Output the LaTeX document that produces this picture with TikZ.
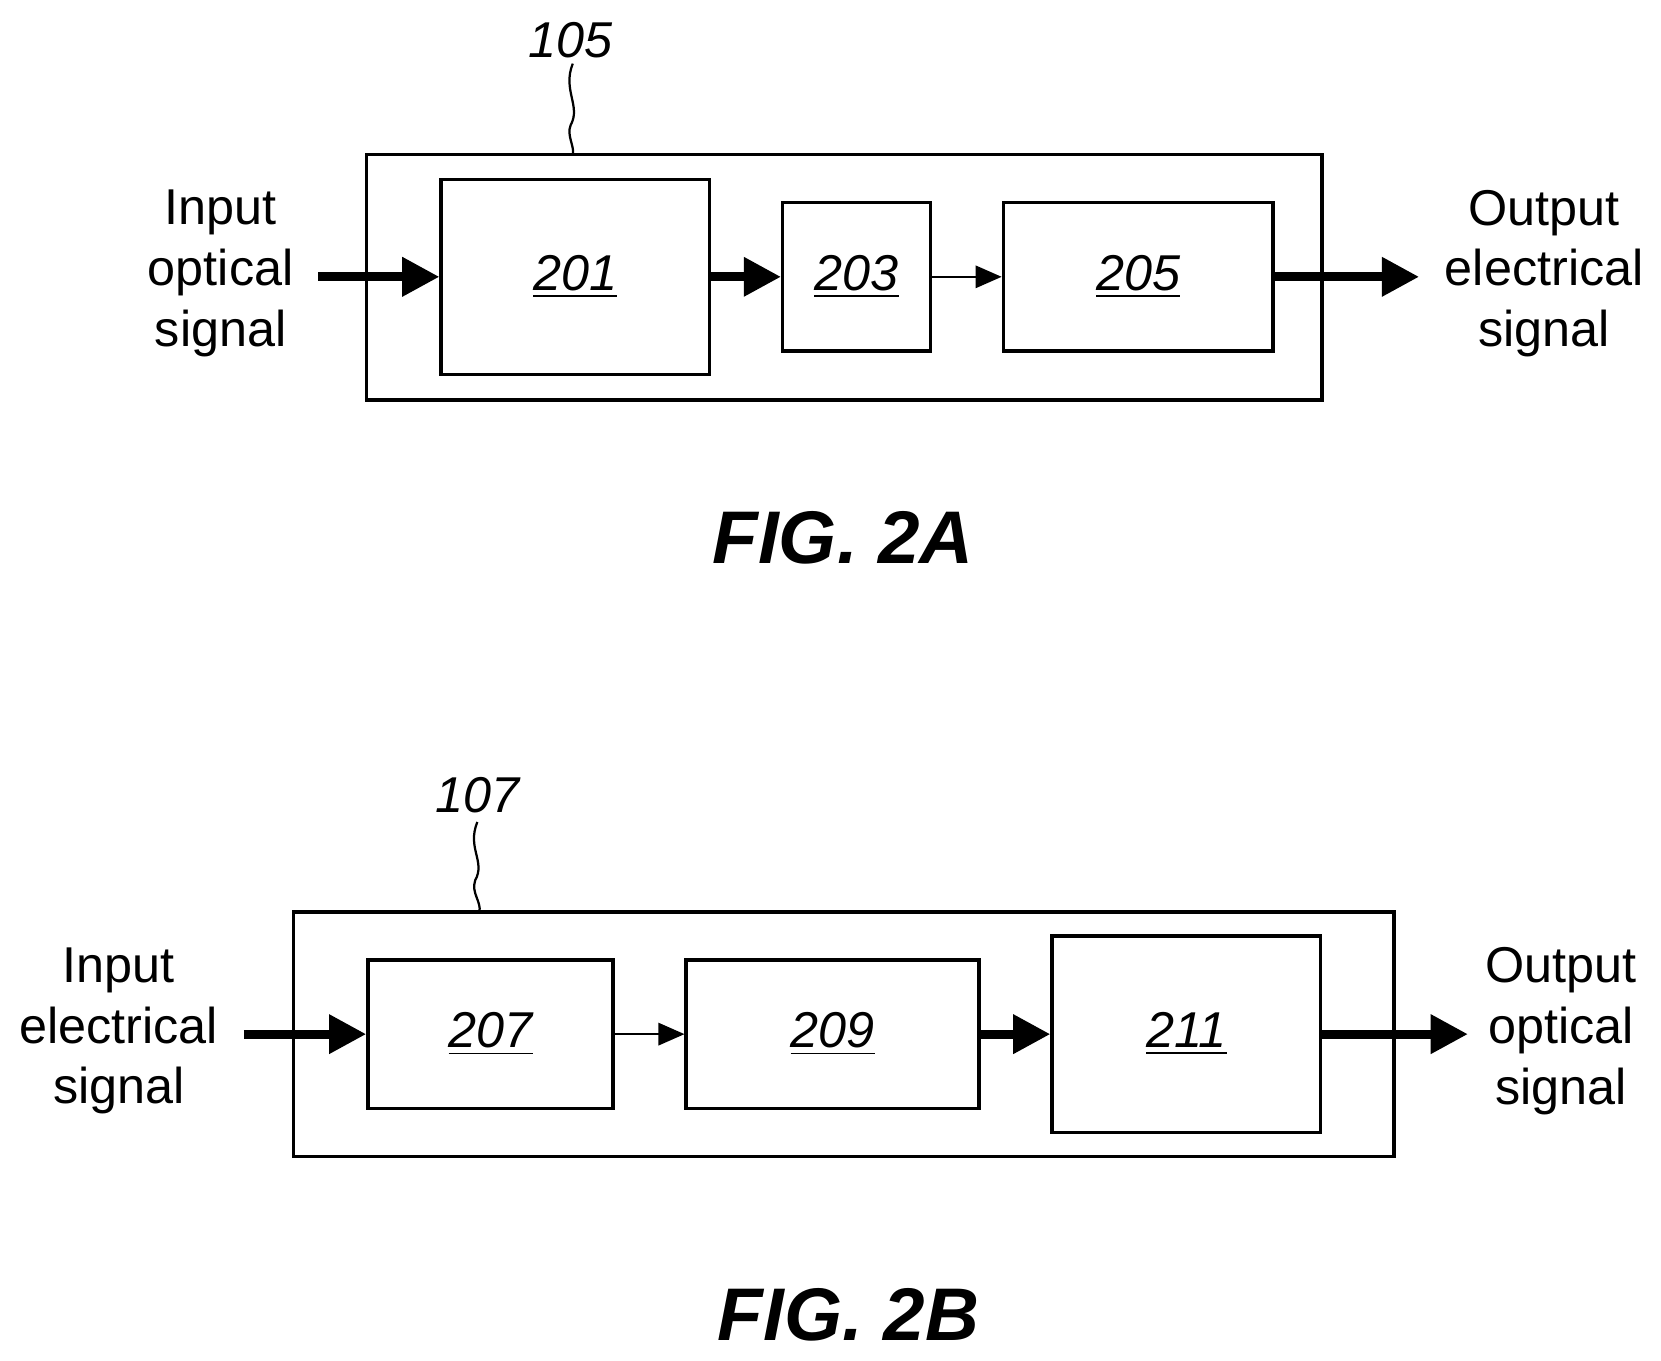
\documentclass[tikz,border=0pt]{standalone}
\usepackage{fontspec}
\setmainfont{Liberation Sans}
\usetikzlibrary{arrows.meta}
\begin{document}
\begin{tikzpicture}[x=0.01cm,y=-0.01cm,
 box/.style={draw,line width=0.9pt,inner sep=0,font=\fontsize{13.5}{16}\selectfont\itshape},
 num/.style={font=\fontsize{13.5}{16}\selectfont\itshape},
 lab/.style={font=\fontsize{13.5}{16.3}\selectfont,align=center},
 thick arr/.style={line width=2.4pt,-{Triangle[length=10pt,width=10pt]}},
 thin arr/.style={line width=0.6pt,-{Triangle[length=7pt,width=6pt]}},
 fig/.style={font=\fontsize{20}{22}\selectfont\bfseries\itshape}]
\useasboundingbox (0,0) rectangle (1566,1283);
% FIG 2A
\node[box,minimum width=9cm,minimum height=2.31cm] (o105) at (796,261.5) {};
\node[box,minimum width=2.53cm,minimum height=1.84cm] (b201) at (542.5,261) {\underline{201}};
\node[box,minimum width=1.39cm,minimum height=1.4cm] (b203) at (807.5,261) {\underline{203}};
\node[box,minimum width=2.54cm,minimum height=1.4cm] (b205) at (1073,261) {\underline{205}};
\coordinate (a0) at (300,261);
\coordinate (a7) at (1338,261);
\draw[thick arr] (a0) -- (b201.west);
\draw[thick arr] (b201.east) -- (b203.west);
\draw[thin arr] (b203.east) -- (b205.west);
\draw[thick arr] (b205.east) -- (a7);
\node[lab] (inA) at (208,258) {Input\\optical\\signal};
\node[lab] (outA) at (1456,258) {Output\\electrical\\signal};
\node[num] (n105) at (538,38) {105};
\draw[line width=0.6pt] (540,60) .. controls (530,85) and (548,100) .. (538,118) .. controls (534,128) and (542,138) .. (540,146);
\node[fig] (figA) at (795,507) {FIG. 2A};
% FIG 2B
\node[box,minimum width=10.37cm,minimum height=2.3cm] (o107) at (795.5,975) {};
\node[box,minimum width=2.31cm,minimum height=1.4cm] (b207) at (462.5,975) {\underline{207}};
\node[box,minimum width=2.76cm,minimum height=1.4cm] (b209) at (785,975) {\underline{209}};
\node[box,minimum width=2.53cm,minimum height=1.85cm] (b211) at (1118.5,975) {\underline{211}};
\coordinate (c0) at (230,975);
\coordinate (c7) at (1384,975);
\draw[thick arr] (c0) -- (b207.west);
\draw[thin arr] (b207.east) -- (b209.west);
\draw[thick arr] (b209.east) -- (b211.west);
\draw[thick arr] (b211.east) -- (c7);
\node[lab] (inB) at (112,972) {Input\\electrical\\signal};
\node[lab] (outB) at (1472,972) {Output\\optical\\signal};
\node[num] (n107) at (450,750) {107};
\draw[line width=0.6pt] (450,775) .. controls (440,800) and (458,812) .. (448,830) .. controls (444,842) and (454,850) .. (452,860);
\node[fig] (figB) at (800,1240) {FIG. 2B};
\end{tikzpicture}
\end{document}
